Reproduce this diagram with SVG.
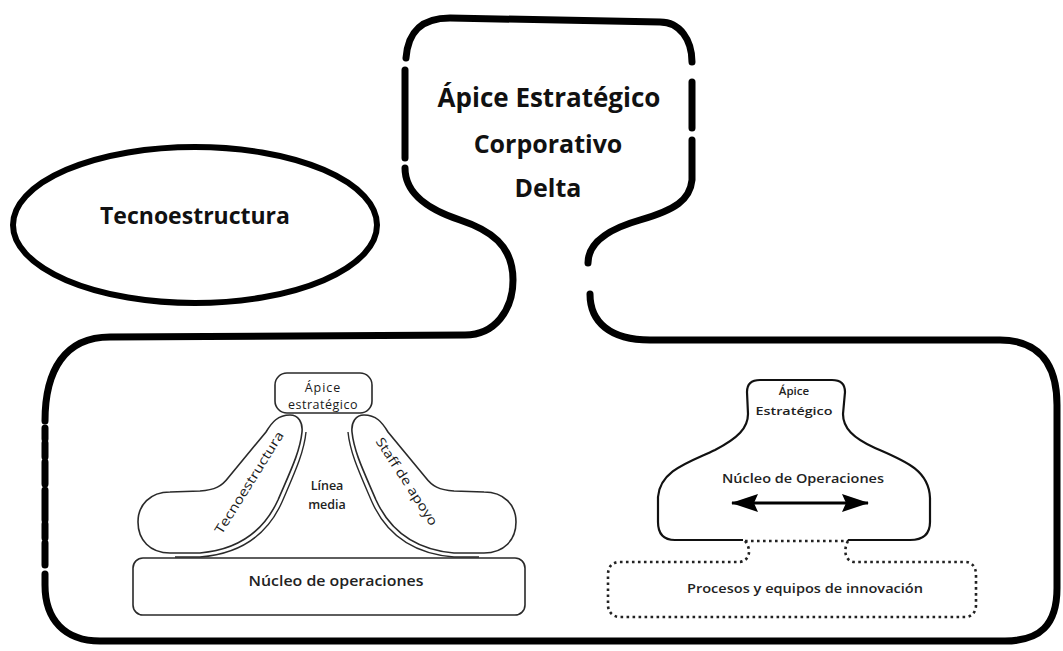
<svg xmlns="http://www.w3.org/2000/svg" width="1063" height="651" viewBox="0 0 1063 651">
<defs>
<style>
.big{fill:none;stroke:#000;stroke-width:7;stroke-linecap:round;stroke-linejoin:round}
.thin{fill:#fff;stroke:#2a2a2a;stroke-width:1.6}
.thinl{fill:none;stroke:#2a2a2a;stroke-width:1.4}
.bot{fill:none;stroke:#111;stroke-width:2.2;stroke-linejoin:round}
.dot{fill:none;stroke:#222;stroke-width:2.6;stroke-dasharray:2.6 3.4}
.t1{font-family:"Open Sans","Liberation Sans",sans-serif;font-weight:700;fill:#111;text-anchor:middle}
.t2{font-family:"Open Sans","Liberation Sans",sans-serif;font-weight:600;fill:#222;text-anchor:middle}
.t3{font-family:"Open Sans","Liberation Sans",sans-serif;font-weight:400;fill:#1a1a1a;text-anchor:middle}
</style>
<marker id="ah" viewBox="0 0 27 18" refX="26" refY="9" markerWidth="27" markerHeight="18" markerUnits="userSpaceOnUse" orient="auto-start-reverse">
<path d="M0,0 L27,9 L0,18 L4,9 Z" fill="#000"/>
</marker>
<path id="boot" d="M290 415 C278 415 272 422 266 432 L228 478 C222 486 215 490 200 491 L170 492 C150 492 138 505 138 522 C138 540 150 553 170 553 L200 553 C235 550 262 535 278 500 C290 472 300 452 302 432 C303 422 298 415 290 415 Z"/>
<path id="bootl" d="M175 557 L200 557 C238 554 266 538 282 502 C294 474 304 453 306 432"/>
</defs>
<rect width="1063" height="651" fill="#fff"/>

<g id="corporativo">
<path class="big" d="M590 294 C590 322 610 340 650 340 L1000 340 C1040 340 1057 365 1057 405 L1057 588 C1057 625 1040 641 1005 641 L100 641 C65 641 45 620 45 585 L45 574"/>
<path class="big" d="M45 565 L45 428" stroke-dasharray="22 5 14 4 30 6" stroke-linecap="butt"/>
<path class="big" d="M45 421 C45 370 65 337 110 337 L465 335 C495 335 513 310 513 280 C513 245 490 230 460 220 C430 210 405 195 405 168"/>
<path class="big" d="M405 158 L405 70"/>
<path class="big" d="M406 58 C408 33 420 18 450 18 L660 22 C680 22 692 40 692 62"/>
<path class="big" d="M692 82 L692 128"/>
<path class="big" d="M692 140 L692 180 C690 200 675 210 640 220 C605 230 588 245 588 263"/>
<text class="t1" x="549" y="107" font-size="26">Ápice Estratégico</text>
<text class="t1" x="548" y="153" font-size="25">Corporativo</text>
<text class="t1" x="548" y="197" font-size="25">Delta</text>
</g>

<g id="tecnoestructura">
<ellipse cx="195" cy="225" rx="182" ry="78" fill="none" stroke="#000" stroke-width="6"/>
<text class="t1" x="195" y="224" font-size="23">Tecnoestructura</text>
</g>

<g id="mintzberg">
<g id="m-tecno">
<use href="#boot" class="thin"/>
<use href="#bootl" class="thinl"/>
<text class="t3" transform="translate(253,485) rotate(-58)" font-size="13" textLength="118" lengthAdjust="spacingAndGlyphs">Tecnoestructura</text>
</g>
<g id="m-staff">
<use href="#boot" class="thin" transform="translate(654,0) scale(-1,1)"/>
<use href="#bootl" class="thinl" transform="translate(654,0) scale(-1,1)"/>
<text class="t3" transform="translate(403,484) rotate(57)" font-size="13" textLength="102" lengthAdjust="spacingAndGlyphs">Staff de apoyo</text>
</g>
<g id="m-apice">
<rect class="thin" x="275" y="373" width="97" height="40" rx="12"/>
<text class="t3" x="323" y="392" font-size="12.5" letter-spacing="1">Ápice</text>
<text class="t3" x="323" y="409" font-size="12.5" letter-spacing="0.5">estratégico</text>
</g>
<g id="m-linea">
<text class="t2" x="327" y="490" font-size="12.5">Línea</text>
<text class="t2" x="327" y="509" font-size="12.5">media</text>
</g>
<g id="m-nucleo">
<rect class="thin" x="133" y="558" width="392" height="57" rx="10"/>
<text class="t2" x="336" y="586" font-size="13.5" textLength="175" lengthAdjust="spacingAndGlyphs">Núcleo de operaciones</text>
</g>
</g>

<g id="adhocracia">
<g id="a-nucleo">
<path class="bot" d="M743 540 L675 540 C663 540 658 533 658 522 L658 497 C660 470 690 462 715 450 C738 438 748 428 748 414 L747 392 C747 384 752 380 760 380 L832 380 C840 380 845 384 845 392 L843 414 C843 428 853 438 875 448 C905 461 929 470 930 498 L930 522 C930 535 922 540 910 540 L848 540"/>
<text class="t2" x="794" y="395" font-size="11.5">Ápice</text>
<text class="t2" x="794" y="415" font-size="11.5" textLength="77" lengthAdjust="spacingAndGlyphs">Estratégico</text>
<text class="t2" x="803" y="483" font-size="13" textLength="162" lengthAdjust="spacingAndGlyphs">Núcleo de Operaciones</text>
</g>
<g id="a-procesos">
<path class="dot" d="M745 541 L848 541"/>
<path class="dot" d="M745 541 C751 548 751 560 740 562 L620 562 C612 562 608 567 608 575 L608 605 C608 612 613 617 620 617 L965 617 C972 617 976 612 976 605 L976 575 C976 567 972 562 965 562 L855 562 C845 562 843 550 848 541"/>
<text class="t2" x="805" y="593" font-size="12.5" textLength="236" lengthAdjust="spacingAndGlyphs">Procesos y equipos de innovación</text>
</g>
</g>

<g id="connectors">
<line x1="732" y1="503" x2="868" y2="503" stroke="#000" stroke-width="3" marker-start="url(#ah)" marker-end="url(#ah)"/>
</g>
</svg>
